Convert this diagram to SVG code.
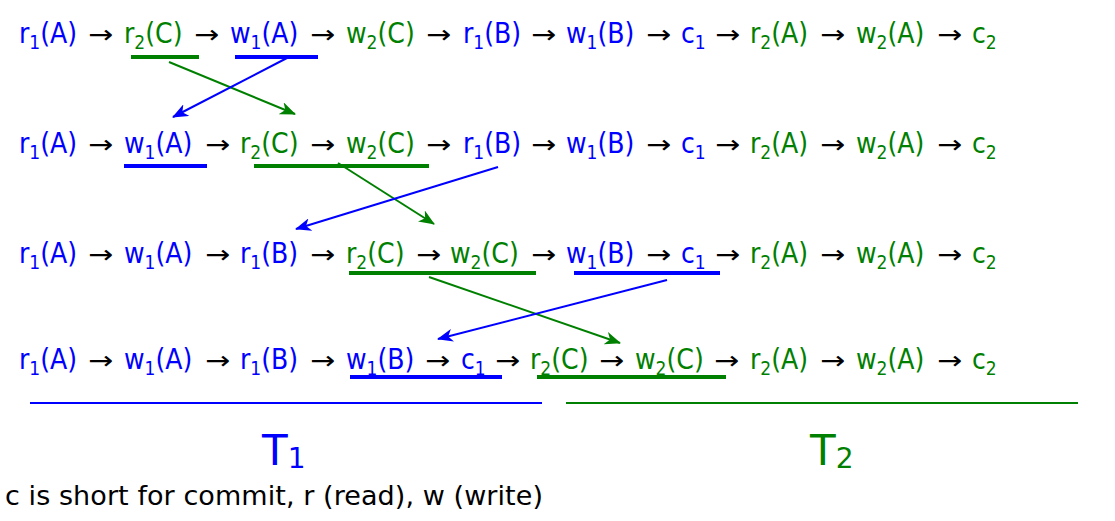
<svg xmlns="http://www.w3.org/2000/svg" width="1115" height="521" viewBox="0 0 1115 521">
<style>
.t{font-family:"DejaVu Sans Condensed","DejaVu Sans",sans-serif;font-size:28px}
.b{fill:#0000ff}
.g{fill:#008000}
.s{font-size:19px}
.a{font-family:"DejaVu Sans",sans-serif;font-size:25px;fill:#000}
.ub{stroke:#0000ff;stroke-width:4}
.ug{stroke:#008000;stroke-width:4}
.cb{stroke:#0000ff;stroke-width:2;fill:none}
.cg{stroke:#008000;stroke-width:2;fill:none}
.lbl{font-family:"DejaVu Sans",sans-serif}
</style>
<defs>
<marker id="mb" markerUnits="userSpaceOnUse" markerWidth="16" markerHeight="13" refX="15" refY="6.5" orient="auto" viewBox="0 0 16 13"><path d="M0,0 L16,6.5 L0,13 L4.5,6.5 z" fill="#0000ff"/></marker>
<marker id="mg" markerUnits="userSpaceOnUse" markerWidth="16" markerHeight="13" refX="15" refY="6.5" orient="auto" viewBox="0 0 16 13"><path d="M0,0 L16,6.5 L0,13 L4.5,6.5 z" fill="#008000"/></marker>
</defs>
<rect width="1115" height="521" fill="#fff"/>

<g id="row1">
<text class="t b" x="19" y="43">r<tspan class="s" dy="6">1</tspan><tspan dy="-6">(A)</tspan></text>
<text class="t g" x="124" y="43">r<tspan class="s" dy="6">2</tspan><tspan dy="-6">(C)</tspan></text>
<text class="t b" x="230" y="43">w<tspan class="s" dy="6">1</tspan><tspan dy="-6">(A)</tspan></text>
<text class="t g" x="346" y="43">w<tspan class="s" dy="6">2</tspan><tspan dy="-6">(C)</tspan></text>
<text class="t b" x="463" y="43">r<tspan class="s" dy="6">1</tspan><tspan dy="-6">(B)</tspan></text>
<text class="t b" x="566" y="43">w<tspan class="s" dy="6">1</tspan><tspan dy="-6">(B)</tspan></text>
<text class="t b" x="681" y="43">c<tspan class="s" dy="6">1</tspan></text>
<text class="t g" x="750" y="43">r<tspan class="s" dy="6">2</tspan><tspan dy="-6">(A)</tspan></text>
<text class="t g" x="856" y="43">w<tspan class="s" dy="6">2</tspan><tspan dy="-6">(A)</tspan></text>
<text class="t g" x="972" y="43">c<tspan class="s" dy="6">2</tspan></text>
<text class="a" x="88" y="43" textLength="25" lengthAdjust="spacingAndGlyphs">→</text>
<text class="a" x="194" y="43" textLength="25" lengthAdjust="spacingAndGlyphs">→</text>
<text class="a" x="310" y="43" textLength="25" lengthAdjust="spacingAndGlyphs">→</text>
<text class="a" x="426" y="43" textLength="25" lengthAdjust="spacingAndGlyphs">→</text>
<text class="a" x="531" y="43" textLength="25" lengthAdjust="spacingAndGlyphs">→</text>
<text class="a" x="646" y="43" textLength="25" lengthAdjust="spacingAndGlyphs">→</text>
<text class="a" x="715" y="43" textLength="25" lengthAdjust="spacingAndGlyphs">→</text>
<text class="a" x="820" y="43" textLength="25" lengthAdjust="spacingAndGlyphs">→</text>
<text class="a" x="937" y="43" textLength="25" lengthAdjust="spacingAndGlyphs">→</text>
<line class="ug" x1="131" y1="57" x2="199" y2="57"/>
<line class="ub" x1="235" y1="57" x2="318" y2="57"/>
</g>

<g id="row2">
<text class="t b" x="19" y="153">r<tspan class="s" dy="6">1</tspan><tspan dy="-6">(A)</tspan></text>
<text class="t b" x="124" y="153">w<tspan class="s" dy="6">1</tspan><tspan dy="-6">(A)</tspan></text>
<text class="t g" x="240" y="153">r<tspan class="s" dy="6">2</tspan><tspan dy="-6">(C)</tspan></text>
<text class="t g" x="346" y="153">w<tspan class="s" dy="6">2</tspan><tspan dy="-6">(C)</tspan></text>
<text class="t b" x="463" y="153">r<tspan class="s" dy="6">1</tspan><tspan dy="-6">(B)</tspan></text>
<text class="t b" x="566" y="153">w<tspan class="s" dy="6">1</tspan><tspan dy="-6">(B)</tspan></text>
<text class="t b" x="681" y="153">c<tspan class="s" dy="6">1</tspan></text>
<text class="t g" x="750" y="153">r<tspan class="s" dy="6">2</tspan><tspan dy="-6">(A)</tspan></text>
<text class="t g" x="856" y="153">w<tspan class="s" dy="6">2</tspan><tspan dy="-6">(A)</tspan></text>
<text class="t g" x="972" y="153">c<tspan class="s" dy="6">2</tspan></text>
<text class="a" x="88" y="153" textLength="25" lengthAdjust="spacingAndGlyphs">→</text>
<text class="a" x="205" y="153" textLength="25" lengthAdjust="spacingAndGlyphs">→</text>
<text class="a" x="310" y="153" textLength="25" lengthAdjust="spacingAndGlyphs">→</text>
<text class="a" x="426" y="153" textLength="25" lengthAdjust="spacingAndGlyphs">→</text>
<text class="a" x="531" y="153" textLength="25" lengthAdjust="spacingAndGlyphs">→</text>
<text class="a" x="646" y="153" textLength="25" lengthAdjust="spacingAndGlyphs">→</text>
<text class="a" x="715" y="153" textLength="25" lengthAdjust="spacingAndGlyphs">→</text>
<text class="a" x="820" y="153" textLength="25" lengthAdjust="spacingAndGlyphs">→</text>
<text class="a" x="937" y="153" textLength="25" lengthAdjust="spacingAndGlyphs">→</text>
<line class="ub" x1="124" y1="166" x2="207" y2="166"/>
<line class="ug" x1="254" y1="166" x2="429" y2="166"/>
</g>

<g id="row3">
<text class="t b" x="19" y="263">r<tspan class="s" dy="6">1</tspan><tspan dy="-6">(A)</tspan></text>
<text class="t b" x="124" y="263">w<tspan class="s" dy="6">1</tspan><tspan dy="-6">(A)</tspan></text>
<text class="t b" x="240" y="263">r<tspan class="s" dy="6">1</tspan><tspan dy="-6">(B)</tspan></text>
<text class="t g" x="346" y="263">r<tspan class="s" dy="6">2</tspan><tspan dy="-6">(C)</tspan></text>
<text class="t g" x="450" y="263">w<tspan class="s" dy="6">2</tspan><tspan dy="-6">(C)</tspan></text>
<text class="t b" x="566" y="263">w<tspan class="s" dy="6">1</tspan><tspan dy="-6">(B)</tspan></text>
<text class="t b" x="681" y="263">c<tspan class="s" dy="6">1</tspan></text>
<text class="t g" x="750" y="263">r<tspan class="s" dy="6">2</tspan><tspan dy="-6">(A)</tspan></text>
<text class="t g" x="856" y="263">w<tspan class="s" dy="6">2</tspan><tspan dy="-6">(A)</tspan></text>
<text class="t g" x="972" y="263">c<tspan class="s" dy="6">2</tspan></text>
<text class="a" x="88" y="263" textLength="25" lengthAdjust="spacingAndGlyphs">→</text>
<text class="a" x="205" y="263" textLength="25" lengthAdjust="spacingAndGlyphs">→</text>
<text class="a" x="310" y="263" textLength="25" lengthAdjust="spacingAndGlyphs">→</text>
<text class="a" x="416" y="263" textLength="25" lengthAdjust="spacingAndGlyphs">→</text>
<text class="a" x="531" y="263" textLength="25" lengthAdjust="spacingAndGlyphs">→</text>
<text class="a" x="646" y="263" textLength="25" lengthAdjust="spacingAndGlyphs">→</text>
<text class="a" x="715" y="263" textLength="25" lengthAdjust="spacingAndGlyphs">→</text>
<text class="a" x="820" y="263" textLength="25" lengthAdjust="spacingAndGlyphs">→</text>
<text class="a" x="937" y="263" textLength="25" lengthAdjust="spacingAndGlyphs">→</text>
<line class="ug" x1="349" y1="273" x2="536" y2="273"/>
<line class="ub" x1="574" y1="273" x2="720" y2="273"/>
</g>

<g id="row4">
<text class="t b" x="19" y="369">r<tspan class="s" dy="6">1</tspan><tspan dy="-6">(A)</tspan></text>
<text class="t b" x="124" y="369">w<tspan class="s" dy="6">1</tspan><tspan dy="-6">(A)</tspan></text>
<text class="t b" x="240" y="369">r<tspan class="s" dy="6">1</tspan><tspan dy="-6">(B)</tspan></text>
<text class="t b" x="346" y="369">w<tspan class="s" dy="6">1</tspan><tspan dy="-6">(B)</tspan></text>
<text class="t b" x="461" y="369">c<tspan class="s" dy="6">1</tspan></text>
<text class="t g" x="530" y="369">r<tspan class="s" dy="6">2</tspan><tspan dy="-6">(C)</tspan></text>
<text class="t g" x="635" y="369">w<tspan class="s" dy="6">2</tspan><tspan dy="-6">(C)</tspan></text>
<text class="t g" x="750" y="369">r<tspan class="s" dy="6">2</tspan><tspan dy="-6">(A)</tspan></text>
<text class="t g" x="856" y="369">w<tspan class="s" dy="6">2</tspan><tspan dy="-6">(A)</tspan></text>
<text class="t g" x="972" y="369">c<tspan class="s" dy="6">2</tspan></text>
<text class="a" x="88" y="369" textLength="25" lengthAdjust="spacingAndGlyphs">→</text>
<text class="a" x="205" y="369" textLength="25" lengthAdjust="spacingAndGlyphs">→</text>
<text class="a" x="310" y="369" textLength="25" lengthAdjust="spacingAndGlyphs">→</text>
<text class="a" x="425" y="369" textLength="25" lengthAdjust="spacingAndGlyphs">→</text>
<text class="a" x="495" y="369" textLength="25" lengthAdjust="spacingAndGlyphs">→</text>
<text class="a" x="599" y="369" textLength="25" lengthAdjust="spacingAndGlyphs">→</text>
<text class="a" x="714" y="369" textLength="25" lengthAdjust="spacingAndGlyphs">→</text>
<text class="a" x="820" y="369" textLength="25" lengthAdjust="spacingAndGlyphs">→</text>
<text class="a" x="937" y="369" textLength="25" lengthAdjust="spacingAndGlyphs">→</text>
<line class="ub" x1="350" y1="377" x2="502" y2="377"/>
<line class="ug" x1="537" y1="377" x2="726" y2="377"/>
</g>

<g id="connectors">
<line class="cg" x1="169" y1="62" x2="295" y2="114" marker-end="url(#mg)"/>
<line class="cb" x1="287" y1="58" x2="173" y2="117" marker-end="url(#mb)"/>
<line class="cg" x1="338" y1="163" x2="434" y2="224" marker-end="url(#mg)"/>
<line class="cb" x1="498" y1="167" x2="296" y2="229" marker-end="url(#mb)"/>
<line class="cg" x1="429" y1="277" x2="620" y2="343" marker-end="url(#mg)"/>
<line class="cb" x1="667" y1="280" x2="438" y2="339" marker-end="url(#mb)"/>
</g>

<g id="T1">
<line stroke="#0000ff" stroke-width="2" x1="30" y1="403" x2="542" y2="403"/>
<text class="lbl" x="262" y="465" font-size="42" fill="#0000ff">T<tspan font-size="28" dy="3">1</tspan></text>
</g>
<g id="T2">
<line stroke="#008000" stroke-width="2" x1="566" y1="403" x2="1078" y2="403"/>
<text class="lbl" x="810" y="465" font-size="42" fill="#008000">T<tspan font-size="28" dy="3">2</tspan></text>
</g>
<text id="note" class="lbl" x="5" y="505" font-size="27" fill="#000" textLength="538" lengthAdjust="spacing">c is short for commit, r (read), w (write)</text>
</svg>
